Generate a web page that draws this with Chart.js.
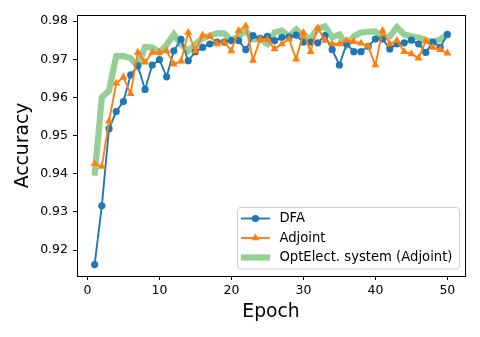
<!DOCTYPE html>
<html lang="en">
<head>
  <meta charset="UTF-8" />
  <title>Accuracy vs Epoch</title>
  <script src="https://cdn.jsdelivr.net/npm/chart.js"></script>
  <style>
    body { margin: 0; background: #fff; }
    #wrap { width: 480px; height: 337px; }
  </style>
</head>
<body>
  <div id="wrap">
    <canvas id="grafico" width="480" height="337"></canvas>
  </div>

  <script>
    // data
    const epochs = [1,2,3,4,5,6,7,8,9,10,11,12,13,14,15,16,17,18,19,20,21,22,23,24,25,
                    26,27,28,29,30,31,32,33,34,35,36,37,38,39,40,41,42,43,44,45,46,47,48,49,50];

    const dfaAcc = [0.9162,0.9316,0.9518,0.9563,0.9589,0.9659,0.9683,0.9621,0.9685,0.9699,
                    0.9654,0.9722,0.9752,0.9696,0.9720,0.9731,0.9740,0.9745,0.9745,0.9749,
                    0.9749,0.9725,0.9762,0.9755,0.9760,0.9749,0.9757,0.9758,0.9763,0.9745,
                    0.9745,0.9743,0.9762,0.9725,0.9685,0.9740,0.9720,0.9720,0.9734,0.9753,
                    0.9753,0.9727,0.9740,0.9743,0.9750,0.9740,0.9718,0.9745,0.9731,0.9765];

    const adjointAcc = [0.9426,0.9419,0.9538,0.9637,0.9653,0.9610,0.9718,0.9692,0.9718,0.9718,
                        0.9722,0.9687,0.9695,0.9770,0.9722,0.9763,0.9760,0.9740,0.9745,0.9722,
                        0.9775,0.9787,0.9697,0.9753,0.9751,0.9727,0.9740,0.9753,0.9700,0.9770,
                        0.9720,0.9782,0.9749,0.9740,0.9740,0.9749,0.9746,0.9742,0.9734,0.9685,
                        0.9775,0.9740,0.9749,0.9720,0.9714,0.9703,0.9748,0.9731,0.9725,0.9716];

    const optElectAcc = [0.9395,0.9600,0.9618,0.9708,0.9708,0.9703,0.9680,0.9732,0.9731,0.9718,
                         0.9738,0.9765,0.9738,0.9722,0.9740,0.9755,0.9762,0.9768,0.9768,0.9750,
                         0.9760,0.9775,0.9752,0.9752,0.9740,0.9770,0.9775,0.9760,0.9778,0.9760,
                         0.9755,0.9780,0.9786,0.9758,0.9765,0.9737,0.9760,0.9770,0.9772,0.9773,
                         0.9757,0.9760,0.9784,0.9765,0.9760,0.9757,0.9750,0.9745,0.9752,0.9765];

    const xTicks = [0, 10, 20, 30, 40, 50];
    const yTicks = [0.92, 0.93, 0.94, 0.95, 0.96, 0.97, 0.98];

    const pts = arr => epochs.map((e, i) => ({ x: e, y: arr[i] }));

    // black box around the plot, like matplotlib spines
    const frame = {
      id: 'frame',
      afterDraw(chart) {
        const { ctx, chartArea: a } = chart;
        ctx.save();
        ctx.strokeStyle = '#000';
        ctx.lineWidth = 1;
        ctx.strokeRect(Math.round(a.left) + 0.5, Math.round(a.top) + 0.5,
                       Math.round(a.right - a.left), Math.round(a.bottom - a.top));
        ctx.restore();
      }
    };

    // legend in the lower right corner, inside the axes
    const innerLegend = {
      id: 'innerLegend',
      afterDraw(chart) {
        const { ctx, chartArea: a } = chart;
        const sets = chart.data.datasets;
        const font = '13.2px "DejaVu Sans"';
        ctx.save();
        ctx.font = font;
        const maxW = Math.max(...sets.map(d => ctx.measureText(d.label).width));
        const rowH = 19.5;
        const w = 42.5 + maxW + 6.5;
        const h = 61.5;
        const x0 = a.right - 6 - w;
        const y0 = a.bottom - 7.5 - h;

        ctx.beginPath();
        ctx.roundRect(x0 + 0.5, y0 + 0.5, w, h, 3);
        ctx.fillStyle = 'rgba(255,255,255,0.8)';
        ctx.fill();
        ctx.strokeStyle = '#cccccc';
        ctx.lineWidth = 1;
        ctx.stroke();

        sets.forEach((d, i) => {
          const cy = y0 + 11.5 + i * rowH;
          ctx.beginPath();
          ctx.moveTo(x0 + 4, cy);
          ctx.lineTo(x0 + 33, cy);
          ctx.strokeStyle = d.borderColor;
          ctx.lineWidth = d.borderWidth;
          ctx.stroke();
          if (d.pointRadius > 0) {
            ctx.fillStyle = d.borderColor;
            const mx = x0 + 18.5, r = d.pointRadius;
            ctx.beginPath();
            if (d.pointStyle === 'triangle') {
              ctx.moveTo(mx, cy - r);
              ctx.lineTo(mx + r * 0.866, cy + r * 0.5);
              ctx.lineTo(mx - r * 0.866, cy + r * 0.5);
              ctx.closePath();
            } else {
              ctx.arc(mx, cy, r, 0, Math.PI * 2);
            }
            ctx.fill();
          }
          ctx.fillStyle = '#000';
          ctx.textBaseline = 'middle';
          ctx.textAlign = 'left';
          ctx.fillText(d.label, x0 + 42.5, cy + 0.5);
        });
        ctx.restore();
      }
    };

    const tickFont = { family: '"DejaVu Sans"', size: 12.5 };
    const titleFont = { family: '"DejaVu Sans"', size: 18.75 };

    new Chart(document.getElementById('grafico'), {
      type: 'line',
      data: {
        datasets: [
          {
            label: 'DFA',
            data: pts(dfaAcc),
            borderColor: '#1f77b4',
            backgroundColor: '#1f77b4',
            borderWidth: 1.9,
            pointStyle: 'circle',
            pointRadius: 3.6,
            pointBorderWidth: 0,
            order: 1
          },
          {
            label: 'Adjoint',
            data: pts(adjointAcc),
            borderColor: '#ff7f0e',
            backgroundColor: '#ff7f0e',
            borderWidth: 1.9,
            pointStyle: 'triangle',
            pointRadius: 4.6,
            pointBorderWidth: 0,
            order: 0
          },
          {
            label: 'OptElect. system (Adjoint)',
            data: pts(optElectAcc),
            borderColor: 'rgba(44,160,44,0.5)',
            backgroundColor: 'rgba(44,160,44,0.5)',
            borderWidth: 6.2,
            pointRadius: 0,
            order: 2
          }
        ]
      },
      options: {
        responsive: false,
        animation: false,
        devicePixelRatio: 1,
        layout: { padding: { left: 0, right: 15, top: 15, bottom: 0 } },
        plugins: {
          legend: { display: false },
          tooltip: { enabled: false }
        },
        scales: {
          x: {
            type: 'linear',
            min: -1.45,
            max: 52.45,
            afterBuildTicks: s => { s.ticks = xTicks.map(v => ({ value: v })); },
            afterFit: s => { s.height = 61; },
            grid: { drawOnChartArea: false, drawTicks: true, tickLength: 4, color: '#000' },
            border: { display: false },
            ticks: { color: '#000', font: tickFont, padding: 3, maxRotation: 0,
                     callback: v => String(v) },
            title: { display: true, text: 'Epoch', color: '#000', font: titleFont,
                     padding: { top: 0, bottom: 14 } }
          },
          y: {
            type: 'linear',
            min: 0.9132,
            max: 0.9816,
            afterBuildTicks: s => { s.ticks = yTicks.map(v => ({ value: v })); },
            afterFit: s => { s.width = 77; },
            grid: { drawOnChartArea: false, drawTicks: true, tickLength: 4, color: '#000' },
            border: { display: false },
            ticks: { color: '#000', font: tickFont, padding: 5,
                     callback: v => v.toFixed(2) },
            title: { display: true, text: 'Accuracy', color: '#000', font: titleFont,
                     padding: { top: 12, bottom: 0 } }
          }
        }
      },
      plugins: [frame, innerLegend]
    });
  </script>
</body>
</html>
